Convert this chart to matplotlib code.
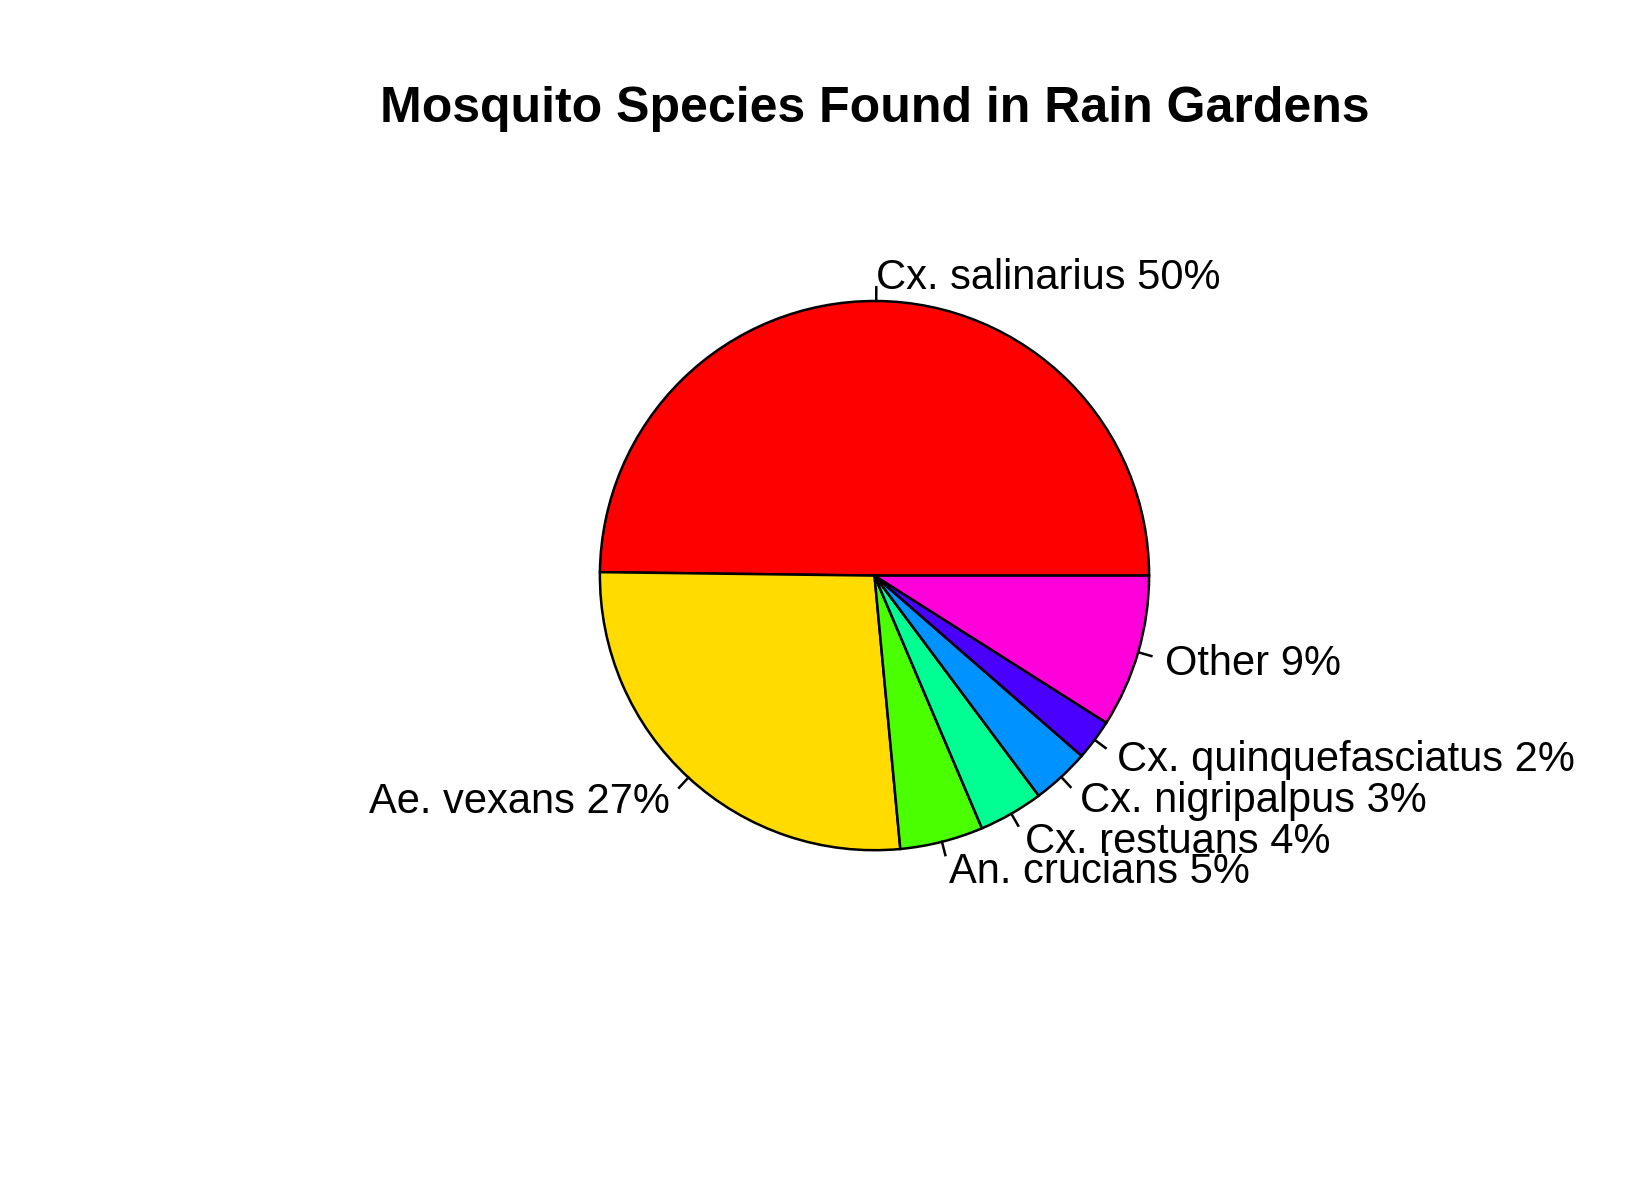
import numpy as np
import matplotlib.pyplot as plt
import matplotlib
matplotlib.rcParams['font.family'] = ['Liberation Sans', 'DejaVu Sans']

# data (percent of mosquitoes caught)
species = ['Cx. salinarius', 'Ae. vexans', 'An. crucians', 'Cx. restuans',
           'Cx. nigripalpus', 'Cx. quinquefasciatus', 'Other']
share = [49.8, 26.7, 4.9, 3.8, 3.4, 2.4, 9.0]
pct_labels = ['50%', '27%', '5%', '4%', '3%', '2%', '9%']
colors = ['#FF0000', '#FFDB00', '#49FF00', '#00FF92', '#0092FF', '#4900FF', '#FF00DB']

fig = plt.figure(figsize=(16.5, 12), dpi=100)
ax = fig.add_axes([0, 0, 1, 1])
ax.set_aspect('equal')
ax.axis('off')

cx, cy, r = 874.5, 624.4, 274.6
wedges, _ = ax.pie(share, colors=colors, startangle=0, counterclock=True,
                   center=(cx, cy), radius=r,
                   wedgeprops=dict(edgecolor='black', linewidth=1.8))
ax.set_xlim(0, 1650)
ax.set_ylim(0, 1200)

# R style labels: tick from r to 1.05r, text at 1.1r
for w, name, p in zip(wedges, species, pct_labels):
    mid = np.deg2rad((w.theta1 + w.theta2) / 2)
    c, s = np.cos(mid), np.sin(mid)
    ax.plot([cx + r * c, cx + 1.05 * r * c], [cy + r * s, cy + 1.05 * r * s],
            color='black', linewidth=1.8)
    ax.text(cx + 1.1 * r * c, cy + 1.1 * r * s - 4, name + ' ' + p,
            ha='left' if c > 0 else 'right', va='center', fontsize=30)

fig.text(0.53, 0.909, 'Mosquito Species Found in Rain Gardens',
         ha='center', va='center', fontsize=36, fontweight='bold')

plt.savefig('out.png', dpi=100)
